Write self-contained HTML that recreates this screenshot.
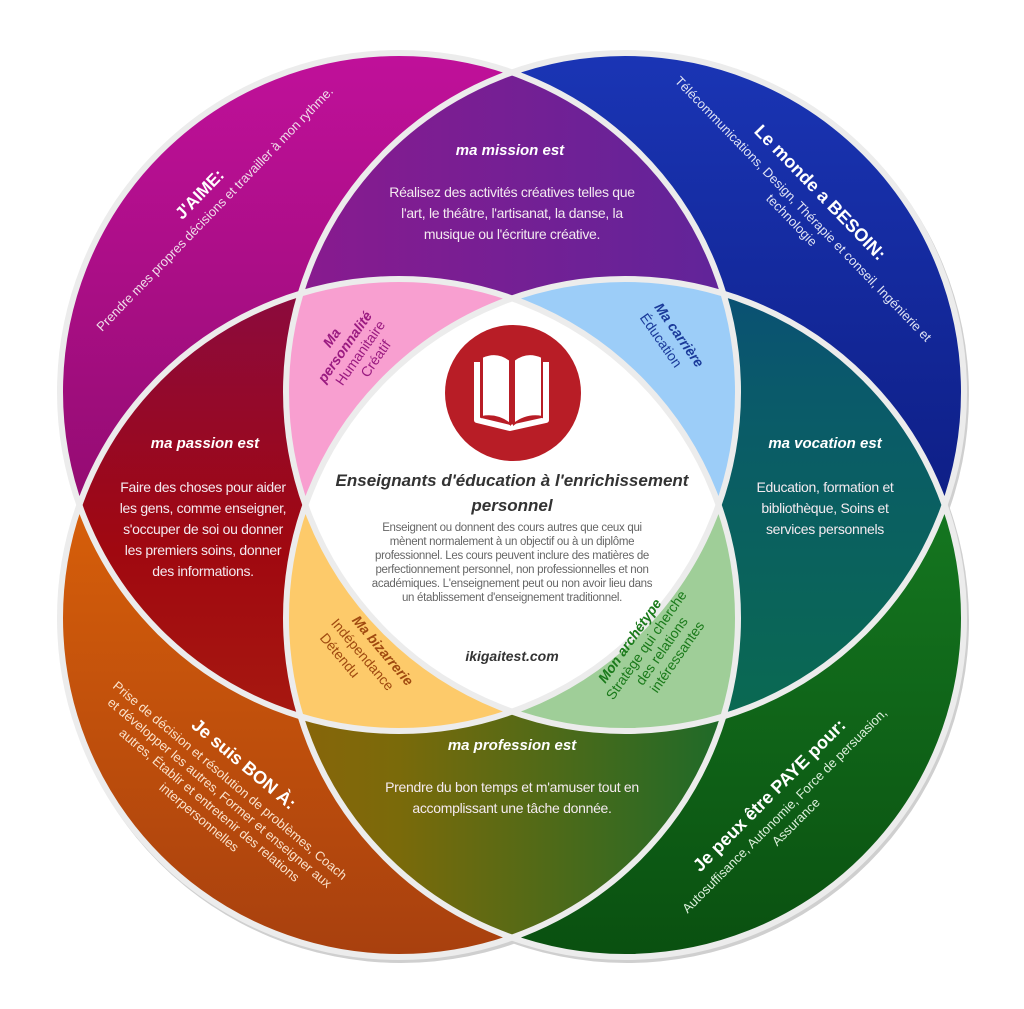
<!DOCTYPE html>
<html><head><meta charset="utf-8"><style>
html,body{margin:0;padding:0;background:#fff;}
svg{display:block;}
text{font-family:"Liberation Sans Narrow","Liberation Sans",sans-serif;}
.h{font-weight:bold;font-style:italic;font-size:15px;fill:#fff;text-anchor:middle;}
.b{font-size:14px;letter-spacing:-0.3px;fill:#f4eaf0;text-anchor:middle;}
</style></head><body>
<svg width="1024" height="1009" viewBox="0 0 1024 1009" xmlns="http://www.w3.org/2000/svg">
<defs>
<clipPath id="cTL"><circle cx="399" cy="392" r="339"/></clipPath>
<clipPath id="cTR"><circle cx="625" cy="392" r="339"/></clipPath>
<clipPath id="cBL"><circle cx="399" cy="618" r="339"/></clipPath>
<clipPath id="cBR"><circle cx="625" cy="618" r="339"/></clipPath>
<linearGradient id="gTL" x1="0" y1="0" x2="0" y2="1"><stop offset="0" stop-color="#c0109a"/><stop offset="1" stop-color="#7e0a5e"/></linearGradient>
<linearGradient id="gTR" x1="0" y1="0" x2="0" y2="1"><stop offset="0" stop-color="#1a35b5"/><stop offset="1" stop-color="#08136e"/></linearGradient>
<linearGradient id="gBL" x1="0" y1="0" x2="0" y2="1"><stop offset="0" stop-color="#ee6e08"/><stop offset="1" stop-color="#a8400e"/></linearGradient>
<linearGradient id="gBR" x1="0" y1="0" x2="0" y2="1"><stop offset="0" stop-color="#1a8a28"/><stop offset="1" stop-color="#0a5010"/></linearGradient>
<linearGradient id="gMi" x1="0" y1="0" x2="1" y2="0"><stop offset="0" stop-color="#8a1a8e"/><stop offset="1" stop-color="#4a2aa0"/></linearGradient>
<linearGradient id="gPa" x1="0" y1="0" x2="0" y2="1"><stop offset="0" stop-color="#8a0a40"/><stop offset="0.4" stop-color="#a00810"/><stop offset="1" stop-color="#b03010"/></linearGradient>
<linearGradient id="gVo" x1="0" y1="0" x2="0" y2="1"><stop offset="0" stop-color="#0a3a8a"/><stop offset="0.5" stop-color="#0a5a6a"/><stop offset="1" stop-color="#0a6a50"/></linearGradient>
<linearGradient id="gPr" x1="0" y1="0" x2="1" y2="0"><stop offset="0" stop-color="#a85a08"/><stop offset="0.5" stop-color="#7a6a0a"/><stop offset="1" stop-color="#1a6a2a"/></linearGradient>
</defs>

<g fill="#cfcfcf">
<circle cx="401" cy="395" r="342"/><circle cx="627" cy="395" r="342"/><circle cx="401" cy="621" r="342"/><circle cx="627" cy="621" r="342"/>
</g>
<circle cx="399" cy="392" r="339" fill="url(#gTL)"/>
<circle cx="625" cy="392" r="339" fill="url(#gTR)"/>
<circle cx="399" cy="618" r="339" fill="url(#gBL)"/>
<circle cx="625" cy="618" r="339" fill="url(#gBR)"/>
<g clip-path="url(#cTL)"><circle cx="625" cy="392" r="339" fill="url(#gMi)"/><circle cx="399" cy="618" r="339" fill="url(#gPa)"/></g>
<g clip-path="url(#cBR)"><circle cx="625" cy="392" r="339" fill="url(#gVo)"/><circle cx="399" cy="618" r="339" fill="url(#gPr)"/></g>
<g clip-path="url(#cTL)"><g clip-path="url(#cTR)"><circle cx="625" cy="618" r="339" fill="#9ccdf8"/><circle cx="399" cy="618" r="339" fill="#f89fd0"/></g></g>
<g clip-path="url(#cBL)"><g clip-path="url(#cBR)"><circle cx="625" cy="392" r="339" fill="#9fce98"/><circle cx="399" cy="392" r="339" fill="#fdca6a"/></g></g>
<g clip-path="url(#cTL)"><g clip-path="url(#cTR)"><g clip-path="url(#cBL)"><circle cx="625" cy="618" r="339" fill="#fff"/></g></g></g>
<g fill="none" stroke="#ececec" stroke-width="6">
<circle cx="399" cy="392" r="339"/><circle cx="625" cy="392" r="339"/><circle cx="399" cy="618" r="339"/><circle cx="625" cy="618" r="339"/>
</g>

<circle cx="513" cy="393" r="68" fill="#b81d26"/>
<g fill="none" stroke="#fff" stroke-width="6" stroke-linejoin="round">
<path d="M477 362 L477 420 L510 428 L546 420 L546 362"/>
</g>
<g fill="#fff" stroke="#b81d26" stroke-width="2">
<path d="M482 357 Q497 350 510 360 L510 424 Q497 414 482 417 Z"/>
<path d="M542 357 Q527 350 514 360 L514 424 Q527 414 542 417 Z"/>
</g>

<text x="512" y="486" text-anchor="middle" font-size="17" font-weight="bold" font-style="italic" fill="#333">Enseignants d'éducation à l'enrichissement</text>
<text x="512" y="511" text-anchor="middle" font-size="17" font-weight="bold" font-style="italic" fill="#333">personnel</text>
<g font-size="11.5" fill="#666" text-anchor="middle" letter-spacing="-0.3">
<text x="512" y="531">Enseignent ou donnent des cours autres que ceux qui</text>
<text x="512" y="545">mènent normalement à un objectif ou à un diplôme</text>
<text x="512" y="559">professionnel. Les cours peuvent inclure des matières de</text>
<text x="512" y="573">perfectionnement personnel, non professionnelles et non</text>
<text x="512" y="587">académiques. L'enseignement peut ou non avoir lieu dans</text>
<text x="512" y="601">un établissement d'enseignement traditionnel.</text>
</g>
<text x="512" y="661" text-anchor="middle" font-size="14" font-weight="bold" font-style="italic" fill="#333">ikigaitest.com</text>

<text class="h" x="510" y="155">ma mission est</text>
<text class="b" x="512" y="197">Réalisez des activités créatives telles que</text>
<text class="b" x="512" y="218">l'art, le théâtre, l'artisanat, la danse, la</text>
<text class="b" x="512" y="239">musique ou l'écriture créative.</text>

<text class="h" x="205" y="448">ma passion est</text>
<text class="b" x="203" y="492">Faire des choses pour aider</text>
<text class="b" x="203" y="513">les gens, comme enseigner,</text>
<text class="b" x="203" y="534">s'occuper de soi ou donner</text>
<text class="b" x="203" y="555">les premiers soins, donner</text>
<text class="b" x="203" y="576">des informations.</text>

<text class="h" x="825" y="448">ma vocation est</text>
<text class="b" x="825" y="492">Education, formation et</text>
<text class="b" x="825" y="513">bibliothèque, Soins et</text>
<text class="b" x="825" y="534">services personnels</text>

<text class="h" x="512" y="750">ma profession est</text>
<text class="b" x="512" y="792">Prendre du bon temps et m'amuser tout en</text>
<text class="b" x="512" y="813">accomplissant une tâche donnée.</text>

<g transform="translate(218,212) rotate(-46)" text-anchor="middle" fill="#fff">
<text x="0" y="-20" font-size="17" font-weight="bold">J'AIME:</text>
<text x="0" y="0" font-size="13" fill="#f0dcea">Prendre mes propres décisions et travailler à mon rythme.</text>
</g>
<g transform="translate(800,212) rotate(46)" text-anchor="middle" fill="#fff">
<text x="0" y="-22" font-size="18" font-weight="bold">Le monde a BESOIN:</text>
<text x="0" y="0" font-size="13" fill="#dfe3f5">Télécommunications, Design, Thérapie et conseil, Ingénierie et</text>
<text x="0" y="16" font-size="13" fill="#dfe3f5">technologie</text>
</g>
<g transform="translate(222,790) rotate(40)" text-anchor="middle" fill="#fff">
<text x="0" y="-28" font-size="18" font-weight="bold">Je suis BON À:</text>
<text x="0" y="-8" font-size="13" fill="#fbe3cc">Prise de décision et résolution de problèmes, Coach</text>
<text x="0" y="8" font-size="13" fill="#fbe3cc">et développer les autres, Former et enseigner aux</text>
<text x="0" y="24" font-size="13" fill="#fbe3cc">autres, Établir et entretenir des relations</text>
<text x="0" y="40" font-size="13" fill="#fbe3cc">interpersonnelles</text>
</g>
<g transform="translate(782,808) rotate(-45)" text-anchor="middle" fill="#fff">
<text x="0" y="-12" font-size="18" font-weight="bold">Je peux être PAYE pour:</text>
<text x="0" y="8" font-size="13" fill="#dcf0dc">Autosuffisance, Autonomie, Force de persuasion,</text>
<text x="0" y="24" font-size="13" fill="#dcf0dc">Assurance</text>
</g>

<g transform="translate(352,352) rotate(-55)" text-anchor="middle" font-size="14" fill="#9a1a80">
<text x="0" y="-20" font-weight="bold" font-style="italic">Ma</text>
<text x="0" y="-4" font-weight="bold" font-style="italic">personnalité</text>
<text x="4" y="12">Humanitaire</text>
<text x="8" y="28">Créatif</text>
</g>
<g transform="translate(672,340) rotate(55)" text-anchor="middle" font-size="14" fill="#1a3a9a">
<text x="0" y="-4" font-weight="bold" font-style="italic">Ma carrière</text>
<text x="-6" y="14">Éducation</text>
</g>
<g transform="translate(362,655) rotate(50)" text-anchor="middle" font-size="14" fill="#a04a10">
<text x="10" y="-14" font-weight="bold" font-style="italic">Ma bizarrerie</text>
<text x="0" y="4">Indépendance</text>
<text x="-14" y="22">Détendu</text>
</g>
<g transform="translate(650,655) rotate(-55)" text-anchor="middle" font-size="14" fill="#1a7a1a">
<text x="0" y="-20" font-weight="bold" font-style="italic">Mon archétype</text>
<text x="6" y="-4">Stratège qui cherche</text>
<text x="10" y="12">des relations</text>
<text x="14" y="28">intéressantes</text>
</g>
</svg>
</body></html>
